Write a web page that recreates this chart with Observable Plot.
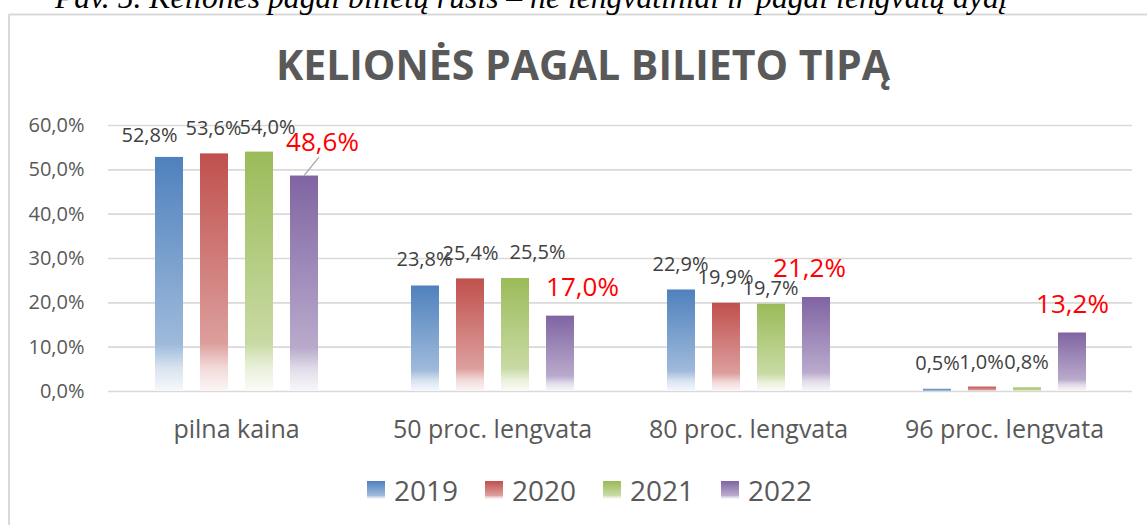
<!DOCTYPE html>
<html>
<head>
<meta charset="utf-8">
<script src="https://cdn.jsdelivr.net/npm/d3@7"></script>
<script src="https://cdn.jsdelivr.net/npm/@observablehq/plot@0.6"></script>
<style>
  html, body { margin: 0; padding: 0; background: #ffffff; }
  #page { position: relative; width: 1147px; height: 525px; overflow: hidden; background: #fff; }
  #bg { position: absolute; left: 0; top: 0; }
  #chart { position: absolute; left: 0; top: 100px; }
  #legend { position: absolute; left: 0; top: 474px; width: 1179px; display: flex; justify-content: center;
            font-family: "Open Sans", sans-serif; font-size: 28px; color: #595959; line-height: 32px; }
  .item { display: flex; align-items: center; margin: 0 13.5px; }
  .sw { width: 18px; height: 18px; margin-right: 9px; }
  #chart g[aria-label^="fx-axis"] text { font-size: 25px; }
  #chart g[aria-label^="y-axis"] text { font-size: 20px; }
</style>
</head>
<body>
<div id="page">
  <svg id="bg" width="1147" height="525"></svg>
  <div id="chart"></div>
  <div id="legend"></div>
</div>
<script>
// ---- data ----
const categories = ["pilna kaina", "50 proc. lengvata", "80 proc. lengvata", "96 proc. lengvata"];
const years = ["2019", "2020", "2021", "2022"];
const values2019 = [52.8, 23.8, 22.9, 0.5];
const values2020 = [53.6, 25.4, 19.9, 1.0];
const values2021 = [54.0, 25.5, 19.7, 0.8];
const values2022 = [48.6, 17.0, 21.2, 13.2];
const yTicks = [0, 10, 20, 30, 40, 50, 60];
const titleText = "KELIONĖS PAGAL BILIETO TIPĄ";
const captionText = "Pav. 5. Kelionės pagal bilietų rūšis – ne lengvatiniai ir pagal lengvatų dydį";

// ---- styling / layout (not data) ----
const colors = {"2019": "#4F81BD", "2020": "#C0504D", "2021": "#9BBB59", "2022": "#8064A2"};
const highlightYear = "2022";
// label nudges [dx, dy] per year, per category (as placed in the original)
const labelNudge = {
  "2019": [[-20, -22], [-1, -26], [-1, -25], [0, -26]],
  "2020": [[-1, -25], [0, -25], [-1, -26], [-1, -24]],
  "2021": [[8, -25], [22, -26], [-1, -16], [-1, -25]],
  "2022": [[18, -33], [22, -28], [-7, -29], [0, -28]]
};

const seriesValues = [values2019, values2020, values2021, values2022];
const rows = [];
years.forEach((yr, j) => categories.forEach((c, i) => {
  rows.push({category: c, year: yr, value: seriesValues[j][i], dx: labelNudge[yr][i][0], dy: labelNudge[yr][i][1]});
}));

const fmt = v => v.toFixed(1).replace(".", ",") + "%";

function tint(hex, t) { // t = amount of base colour kept
  const c = d3.rgb(hex);
  return d3.rgb(255 - (255 - c.r) * t, 255 - (255 - c.g) * t, 255 - (255 - c.b) * t).formatHex();
}
const gradStops = [[0, 1], [0.8, 0.55], [0.9, 0.22], [1, 0.05]];

const marks = [
  Plot.ruleY(yTicks, {stroke: "#d9d9d9", strokeWidth: 1.6})
];
years.forEach(yr => {
  marks.push(Plot.barY(rows.filter(d => d.year === yr), {fx: "category", x: "year", y: "value", fill: `url(#grad${yr})`}));
});
years.forEach(yr => {
  const hl = yr === highlightYear;
  marks.push(Plot.text(rows.filter(d => d.year === yr).map(d => ({...d})), {
    fx: "category", x: "year", y: "value", text: d => fmt(d.value),
    fill: hl ? "#FF0000" : "#404040", fontSize: hl ? 26 : 20,
    dx: 0, dy: 0
  }));
});

// Plot.text dx/dy are constants; build one mark per label to apply individual nudges
const labelMarks = rows.map(d => {
  const hl = d.year === highlightYear;
  return Plot.text([d], {
    fx: "category", x: "year", y: "value", text: r => fmt(r.value),
    fill: hl ? "#FF0000" : "#404040", fontSize: hl ? 26 : 20, dx: d.dx, dy: d.dy
  });
});

const chart = Plot.plot({
  width: 1147,
  height: 346,
  marginLeft: 108,
  marginRight: 15,
  marginTop: 25,
  marginBottom: 55,
  style: {background: "transparent", fontFamily: "Open Sans, sans-serif", color: "#595959", overflow: "visible"},
  fx: {domain: categories, padding: 0, label: null, tickSize: 0, tickPadding: 29},
  x: {domain: years, paddingInner: 0.38, paddingOuter: 1.0, axis: null},
  y: {domain: [0, 60], ticks: yTicks, tickFormat: fmt, tickSize: 0, tickPadding: 24, label: null},
  marks: [...marks.slice(0, 1 + years.length), ...labelMarks]
});
document.getElementById("chart").appendChild(chart);

// gradient definitions inside the plot svg
const svgSel = d3.select(chart.tagName.toLowerCase() === "svg" ? chart : chart.querySelector("svg"));
const defs = svgSel.insert("defs", ":first-child");
years.forEach(yr => {
  const g = defs.append("linearGradient").attr("id", "grad" + yr).attr("x1", 0).attr("y1", 0).attr("x2", 0).attr("y2", 1);
  gradStops.forEach(([o, t]) => g.append("stop").attr("offset", o).attr("stop-color", tint(colors[yr], t)));
});

// leader line from the moved 48,6% label to its bar
(function () {
  const svgEl = svgSel.node();
  const box = svgEl.getBoundingClientRect();
  const texts = Array.from(svgEl.querySelectorAll("text")).filter(t => t.textContent === fmt(values2022[0]));
  if (!texts.length) return;
  const tb = texts[0].getBoundingClientRect();
  // locate the bar: rect whose fill is the 2022 gradient and is tallest
  const rects = Array.from(svgEl.querySelectorAll("rect")).filter(r => {
    const f = r.getAttribute("fill") || (r.parentNode && r.parentNode.getAttribute("fill")) || "";
    return f.indexOf("grad" + highlightYear) >= 0;
  });
  let best = null;
  rects.forEach(r => { const b = r.getBoundingClientRect(); if (!best || b.height > best.height) best = b; });
  if (!best) return;
  const x1 = best.left + best.width / 2 - box.left, y1 = best.top - box.top;
  const x2 = tb.left + 0.45 * tb.width - box.left, y2 = tb.bottom - 2 - box.top;
  svgSel.append("line").attr("x1", x1).attr("y1", y1).attr("x2", x2).attr("y2", y2)
    .attr("stroke", "#a6a6a6").attr("stroke-width", 1.3);
})();

// background: frame, caption, title
const bg = d3.select("#bg");
const bgDefs = bg.append("defs");
bg.append("line").attr("x1", 9).attr("x2", 1147).attr("y1", 14.5).attr("y2", 14.5).attr("stroke", "#d9d9d9").attr("stroke-width", 2);
bg.append("line").attr("x1", 9).attr("x2", 9).attr("y1", 14).attr("y2", 525).attr("stroke", "#d9d9d9").attr("stroke-width", 2);
const cap = bg.append("text").attr("x", 55).attr("y", 8)
  .attr("font-family", "Liberation Serif, Times New Roman, serif").attr("font-style", "italic")
  .attr("font-size", 28).attr("fill", "#000").text(captionText);
const cw = cap.node().getComputedTextLength();
if (cw > 0) cap.attr("font-size", 28 * 953 / cw);
const title = bg.append("text").attr("x", 583).attr("y", 80).attr("text-anchor", "middle")
  .attr("font-family", "Open Sans, sans-serif").attr("font-weight", "bold").attr("font-size", 41)
  .attr("fill", "#595959").text(titleText);

// legend
const legend = d3.select("#legend");
years.forEach(yr => {
  const it = legend.append("div").attr("class", "item");
  const css = "linear-gradient(to bottom, " + gradStops.map(([o, t]) => tint(colors[yr], t) + " " + (o * 100) + "%").join(", ") + ")";
  it.append("div").attr("class", "sw").style("background", css);
  it.append("span").text(yr);
});
</script>
</body>
</html>
